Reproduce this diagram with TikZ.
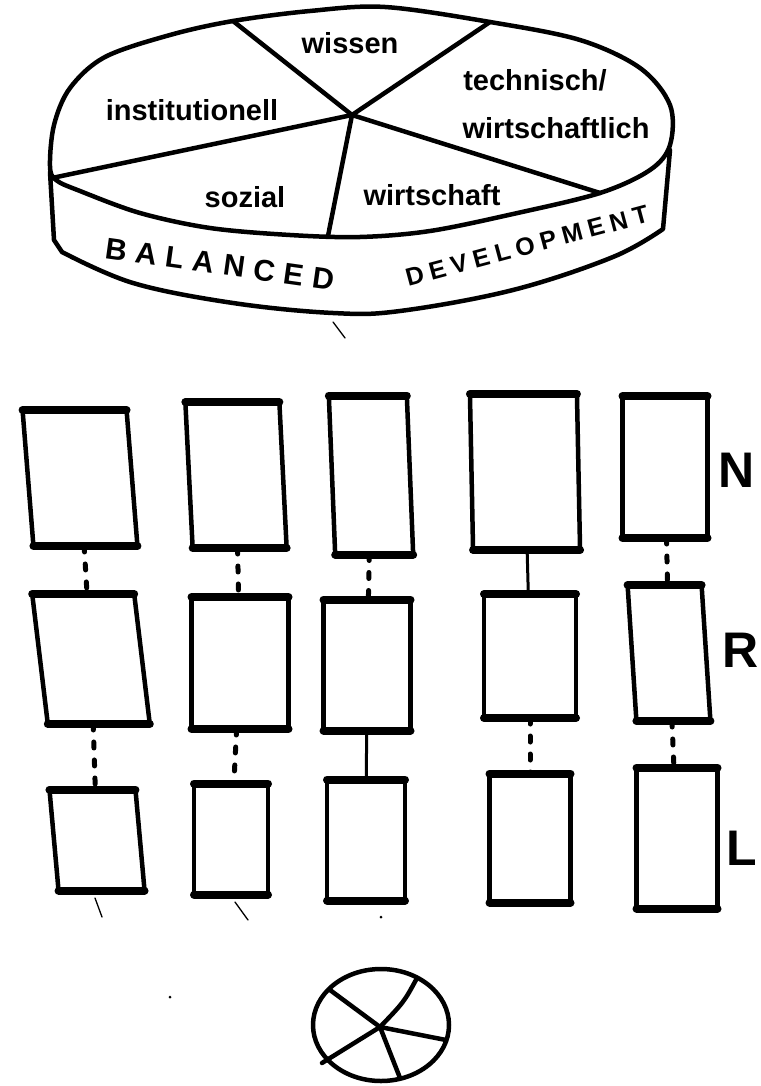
\documentclass[tikz,border=0pt]{standalone}
\usepackage{fontspec}
\setmainfont{Liberation Sans}
\newfontfamily\spatiefont[LetterSpace=30]{Liberation Sans}
\newfontfamily\bandfont[LetterSpace=24]{Liberation Sans}

\tikzset{
  rand/.style={line width=4.5pt, line cap=round, line join=round},
  kast/.style={draw, rectangle, line width=4.5pt, line join=round, inner sep=0pt, outer sep=0pt},
  rib/.style={line width=8pt, line cap=round},
  stippel/.style={line width=5pt, line cap=round, dash pattern=on 6pt off 12pt},
  lijn/.style={line width=3pt, line cap=round},
  krabbel/.style={line width=1.3pt, line cap=round},
  sector/.style={font=\bfseries\fontsize{29}{30}\selectfont},
  rij/.style={font=\bfseries\fontsize{50}{50}\selectfont},
}

\begin{document}
\begin{tikzpicture}[x=1pt, y=-1pt]
  \useasboundingbox (0,0) rectangle (760,1086);

  % Middelpunt van de taart
  \coordinate (M) at (352,115);

  % Bovenvlak
  \draw[rand] plot[smooth cycle, tension=0.55] coordinates {
    (50,166) (54,125) (70,88) (105,57) (170,35) (233,21) (310,11) (385,7)
    (490,22) (580,40) (640,68) (670,105) (670,145) (650,170) (600,193)
    (513,214) (430,231) (360,237) (290,235) (210,228) (140,213) (80,191) (56,180)};

  % Zijkant
  \draw[rand] (50,172) -- (54,240) -- plot[smooth, tension=0.6] coordinates {
    (62,252) (133,283) (233,303) (333,313) (400,311) (513,290) (613,257) (663,229)}
    -- (670,150);

  % Taartpunten
  \draw[rand] (M) -- (233,21);
  \draw[rand] (M) -- (490,22);
  \draw[rand] (M) -- (600,193);
  \draw[rand] (M) -- (328,236);
  \draw[rand] (M) -- (52,178);

  % Labels
  \node[sector] (wissen) at (350,43) {wissen};
  \node[sector] (technisch) at (535,80) {technisch/};
  \node[sector] (wirtschaftlich) at (556,128) {wirtschaftlich};
  \node[sector] (institutionell) at (192,110) {institutionell};
  \node[sector] (sozial) at (245,197) {sozial};
  \node[sector] (wirtschaft) at (432,195) {wirtschaft};
  \node[font=\spatiefont\bfseries\fontsize{30}{30}\selectfont, rotate=-8] (balanced) at (220,264) {BALANCED};
  \node[font=\bandfont\bfseries\fontsize{25}{25}\selectfont, rotate=15] (development) at (527,246) {DEVELOPMENT};

  % Krabbel onder de taart
  \draw[krabbel] (333,322) -- (345,338);

  % Rij N
  \node[kast, minimum width=104pt, minimum height=136pt, xslant=-0.08] (n1) at (80,478) {};
  \node[kast, minimum width=94pt, minimum height=146pt, xslant=-0.05] (n2) at (236,475) {};
  \node[kast, minimum width=78pt, minimum height=159pt, xslant=-0.04] (n3) at (371,475) {};
  \node[kast, minimum width=107pt, minimum height=156pt, xslant=-0.02] (n4) at (525,472) {};
  \node[kast, minimum width=85pt, minimum height=142pt] (n5) at (665,467) {};

  % Rij R
  \node[kast, minimum width=102pt, minimum height=130pt, xslant=-0.12] (r1) at (91,659) {};
  \node[kast, minimum width=97pt, minimum height=132pt] (r2) at (240,663) {};
  \node[kast, minimum width=87pt, minimum height=131pt] (r3) at (367,665) {};
  \node[kast, minimum width=92pt, minimum height=124pt] (r4) at (530,656) {};
  \node[kast, minimum width=74pt, minimum height=136pt, xslant=-0.065] (r5) at (669,653) {};

  % Rij L
  \node[kast, minimum width=86pt, minimum height=101pt, xslant=-0.09] (l1) at (97,840) {};
  \node[kast, minimum width=74pt, minimum height=111pt] (l2) at (231,839) {};
  \node[kast, minimum width=78pt, minimum height=121pt] (l3) at (366,840) {};
  \node[kast, minimum width=81pt, minimum height=129pt] (l4) at (530,838) {};
  \node[kast, minimum width=81pt, minimum height=141pt] (l5) at (677,838) {};

  % Dikke randen boven en onder
  \foreach \k in {n1,n2,n3,n4,n5,r1,r2,r3,r4,r5,l1,l2,l3,l4,l5} {
    \draw[rib] (\k.north west) -- (\k.north east);
    \draw[rib] (\k.south west) -- (\k.south east);
  }

  % Verbindingen
  \draw[stippel] (n1) -- (r1);
  \draw[stippel] (n2) -- (r2);
  \draw[stippel] (n3) -- (r3);
  \draw[lijn] (n4) -- (r4);
  \draw[stippel] (n5) -- (r5);
  \draw[stippel] (r1) -- (l1);
  \draw[stippel] (r2) -- (l2);
  \draw[lijn] (r3) -- (l3);
  \draw[stippel] (r4) -- (l4);
  \draw[stippel] (r5) -- (l5);

  % Rijletters
  \node[rij] (rijN) at (737,470) {N};
  \node[rij] (rijR) at (741,650) {R};
  \node[rij] (rijL) at (742,848) {L};

  % Krabbels onder rij L
  \draw[krabbel] (95,898) -- (102,917);
  \draw[krabbel] (235,902) -- (248,920);
  \fill (381,917) circle (1.5pt);
  \fill (170,997) circle (1.5pt);

  % Kleine taart
  \coordinate (W) at (380,1027);
  \draw[rand] (381,1025) ellipse [x radius=68pt, y radius=56pt];
  \draw[rand] (W) -- (330,990);
  \draw[rand] (W) .. controls (404,1002) .. (417,978);
  \draw[rand] (W) -- (446,1040);
  \draw[rand] (W) -- (400,1078);
  \draw[rand] (W) -- (322,1063);

\end{tikzpicture}
\end{document}
